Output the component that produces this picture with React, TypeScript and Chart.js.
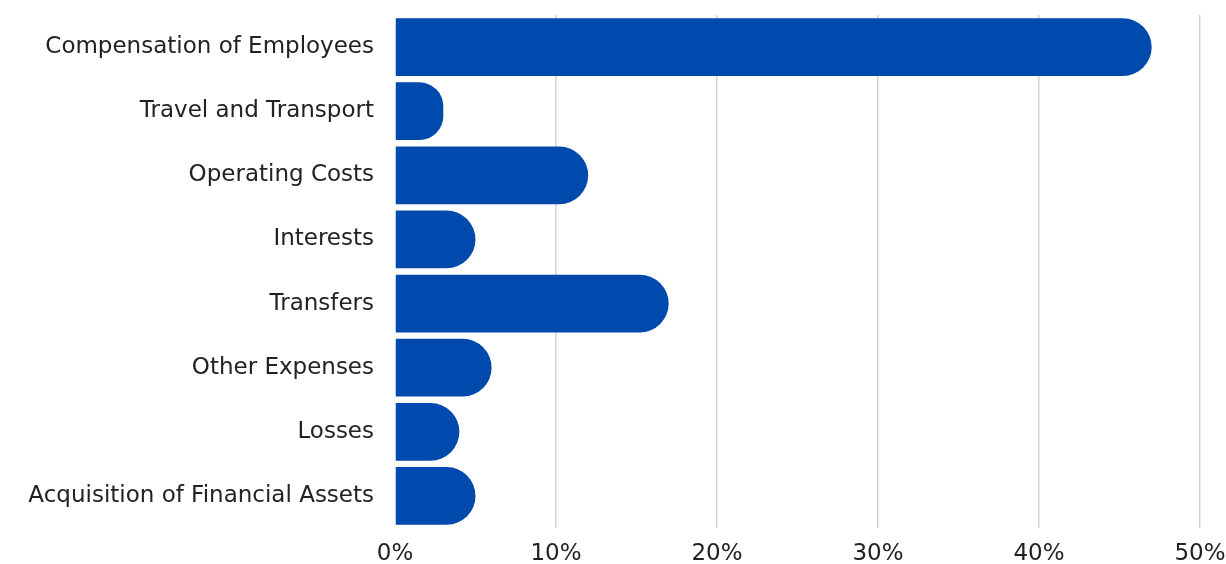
import React, { useEffect, useRef } from "react";
import { Chart, registerables } from "chart.js";

Chart.register(...registerables);

const categories = [
  "Compensation of Employees",
  "Travel and Transport",
  "Operating Costs",
  "Interests",
  "Transfers",
  "Other Expenses",
  "Losses",
  "Acquisition of Financial Assets",
];
const shares = [47, 3, 12, 5, 17, 6, 4, 5];
const xTicks = [0, 10, 20, 30, 40, 50];

export default function App() {
  const ref = useRef<HTMLCanvasElement>(null);
  useEffect(() => {
    if (!ref.current) return;
    const font = { family: "'DejaVu Sans', sans-serif", size: 23 };
    const chart = new Chart(ref.current, {
      type: "bar",
      data: {
        labels: categories,
        datasets: [
          {
            data: shares,
            backgroundColor: "#004AAD",
            borderRadius: { topLeft: 0, bottomLeft: 0, topRight: 30, bottomRight: 30 },
            borderSkipped: false,
            barPercentage: 0.9,
            categoryPercentage: 1,
          },
        ],
      },
      options: {
        indexAxis: "y",
        animation: false,
        responsive: true,
        maintainAspectRatio: false,
        layout: { padding: { top: 15, right: 0, bottom: 0, left: 0 } },
        plugins: { legend: { display: false }, tooltip: { enabled: false } },
        scales: {
          x: {
            min: 0,
            max: 50,
            afterBuildTicks: (axis: any) => {
              axis.ticks = xTicks.map((v) => ({ value: v }));
            },
            afterFit: (axis: any) => {
              axis.paddingRight = 26;
              axis.paddingLeft = 0;
              axis.height = 36;
            },
            border: { display: false },
            grid: {
              color: (ctx: any) => (ctx.index === 0 ? "rgba(0,0,0,0)" : "#d3d3d3"),
              lineWidth: 1.5,
              drawTicks: false,
            },
            ticks: {
              font,
              color: "#222222",
              padding: 12,
              callback: (v: any) => v + "%",
            },
          },
          y: {
            border: { display: false },
            grid: { display: false, drawTicks: false },
            ticks: { font, color: "#222222", padding: 21 },
            afterFit: (axis: any) => {
              axis.width = 395;
              axis.paddingTop = 0;
              axis.paddingBottom = 0;
            },
          },
        },
      },
    });
    return () => chart.destroy();
  }, []);
  return (
    <div style={{ position: "fixed", left: 0, top: 0, width: 1226, height: 564, background: "#fff" }}>
      <canvas ref={ref} />
    </div>
  );
}
